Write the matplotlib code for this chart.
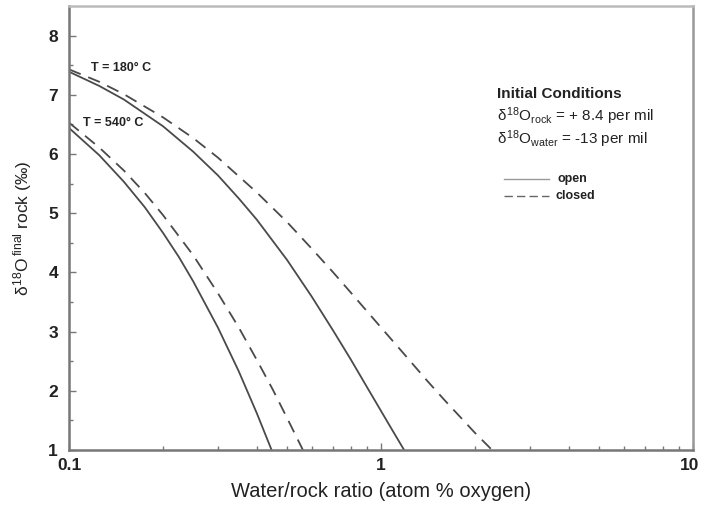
import matplotlib
matplotlib.use("Agg")
import matplotlib.pyplot as plt
import matplotlib.transforms as mtrans
from matplotlib.ticker import FixedLocator, NullFormatter, LogLocator
from matplotlib.lines import Line2D

plt.rcParams['font.family'] = ['Liberation Sans', 'DejaVu Sans']
plt.rcParams['mathtext.fontset'] = 'custom'
plt.rcParams['mathtext.rm'] = 'Liberation Sans'
plt.rcParams['mathtext.it'] = 'Liberation Sans'
plt.rcParams['mathtext.bf'] = 'Liberation Sans:bold'

# Water/rock ratio and final rock delta-18O values
wr_180_open = [0.1, 0.125, 0.15, 0.2, 0.25, 0.3, 0.35, 0.4, 0.5, 0.6, 0.7, 0.8, 0.9, 1.0, 1.1, 1.186]
d_180_open = [7.39, 7.15, 6.92, 6.47, 6.04, 5.64, 5.25, 4.89, 4.21, 3.59, 3.03, 2.53, 2.07, 1.66, 1.29, 1.00]

wr_180_closed = [0.1, 0.125, 0.15, 0.2, 0.25, 0.3, 0.4, 0.5, 0.6, 0.7, 0.8, 1.0, 1.2, 1.4, 1.6, 1.8, 2.0, 2.27]
d_180_closed = [7.43, 7.22, 7.01, 6.62, 6.27, 5.94, 5.35, 4.85, 4.40, 4.01, 3.66, 3.07, 2.59, 2.18, 1.84, 1.55, 1.29, 1.00]

wr_540_open = [0.1, 0.125, 0.15, 0.175, 0.2, 0.225, 0.25, 0.3, 0.35, 0.4, 0.446]
d_540_open = [6.44, 5.98, 5.53, 5.10, 4.67, 4.26, 3.85, 3.07, 2.33, 1.62, 1.00]

wr_540_closed = [0.1, 0.125, 0.15, 0.175, 0.2, 0.25, 0.3, 0.35, 0.4, 0.45, 0.5, 0.562]
d_540_closed = [6.53, 6.11, 5.72, 5.34, 4.97, 4.29, 3.65, 3.07, 2.52, 2.02, 1.54, 1.00]

y_ticks = [1, 2, 3, 4, 5, 6, 7, 8]
x_ticks = [0.1, 1, 10]
x_ticklabels = ['0.1', '1', '10']

fig = plt.figure(figsize=(7.01, 5.09), dpi=100)
ax = fig.add_axes([69 / 701, 1 - 450 / 509, (693 - 69) / 701, (450 - 6) / 509])

line_col = '#4a4a4a'
ax.plot(wr_180_open, d_180_open, color=line_col, lw=1.3, solid_capstyle='butt')
ax.plot(wr_180_closed, d_180_closed, color=line_col, lw=1.3, dashes=(7, 4.5))
ax.plot(wr_540_open, d_540_open, color=line_col, lw=1.3, solid_capstyle='butt')
ax.plot(wr_540_closed, d_540_closed, color=line_col, lw=1.3, dashes=(7, 4.5))

ax.set_xscale('log')
ax.set_xlim(0.1, 10)
ax.set_ylim(1, 8.5)

ax.set_yticks(y_ticks)
ax.yaxis.set_minor_locator(FixedLocator([1.5, 2.5, 3.5, 4.5, 5.5, 6.5, 7.5]))
ax.set_xticks(x_ticks)
ax.set_xticklabels(x_ticklabels)
ax.xaxis.set_minor_locator(LogLocator(base=10, subs=[2, 3, 4, 5, 6, 7, 8, 9]))
ax.xaxis.set_minor_formatter(NullFormatter())

ax.tick_params(axis='both', which='major', direction='in', length=5, width=1,
               color='#777777', labelsize=12.5, labelcolor='#222222')
ax.tick_params(axis='both', which='minor', direction='in', length=3, width=1, color='#777777')
ax.tick_params(axis='y', which='major', pad=8)
ax.tick_params(axis='x', which='major', pad=6)
for lbl in ax.get_xticklabels() + ax.get_yticklabels():
    lbl.set_fontweight('bold')
# keep the last x tick label inside the canvas
last = ax.get_xticklabels()[-1]
last.set_transform(last.get_transform() + mtrans.ScaledTranslation(-3 / 100, 0, fig.dpi_scale_trans))

ax.spines['left'].set_color('#777777')
ax.spines['left'].set_linewidth(1.8)
ax.spines['bottom'].set_color('#777777')
ax.spines['bottom'].set_linewidth(1.8)
ax.spines['right'].set_color('#999999')
ax.spines['right'].set_linewidth(1.8)
ax.spines['top'].set_color('#bbbbbb')
ax.spines['top'].set_linewidth(1.8)

ax.set_xlabel('Water/rock ratio (atom % oxygen)', fontsize=14.5, color='#222222', labelpad=6)
ax.set_ylabel(r'$\delta^{18}$O$^{\,\mathrm{final}}$ rock (‰)', fontsize=12.5, color='#222222', labelpad=10)

ax.text(0.118, 7.46, 'T = 180° C', fontsize=9, fontweight='bold', color='#222222', va='center')
ax.text(0.111, 6.53, 'T = 540° C', fontsize=9, fontweight='bold', color='#222222', va='center')

tx = (497 - 69) / 624
ax.text(tx, (450 - 94) / 444, 'Initial Conditions', transform=ax.transAxes,
        fontsize=11, fontweight='bold', color='#222222', va='center')
ax.text(tx, (450 - 116) / 444, r'$\delta^{18}$O$_{\mathrm{rock}}$ = + 8.4 per mil', transform=ax.transAxes,
        fontsize=11, color='#222222', va='center')
ax.text(tx, (450 - 139) / 444, r'$\delta^{18}$O$_{\mathrm{water}}$ = -13 per mil', transform=ax.transAxes,
        fontsize=11, color='#222222', va='center')

lx0 = (504 - 69) / 624
lx1 = (549 - 69) / 624
ly_open = (450 - 179) / 444
ly_closed = (450 - 196) / 444
ax.add_line(Line2D([lx0, lx1], [ly_open, ly_open], transform=ax.transAxes, color='#999999', lw=1.0))
ax.add_line(Line2D([lx0, lx1], [ly_closed, ly_closed], transform=ax.transAxes, color='#666666', lw=1.0,
                   dashes=(6, 3)))
ax.text((557 - 69) / 624, ly_open, 'open', transform=ax.transAxes, fontsize=9, fontweight='bold',
        color='#222222', va='center')
ax.text((556 - 69) / 624, ly_closed, 'closed', transform=ax.transAxes, fontsize=9, fontweight='bold',
        color='#222222', va='center')

fig.savefig('out.png', dpi=100)
